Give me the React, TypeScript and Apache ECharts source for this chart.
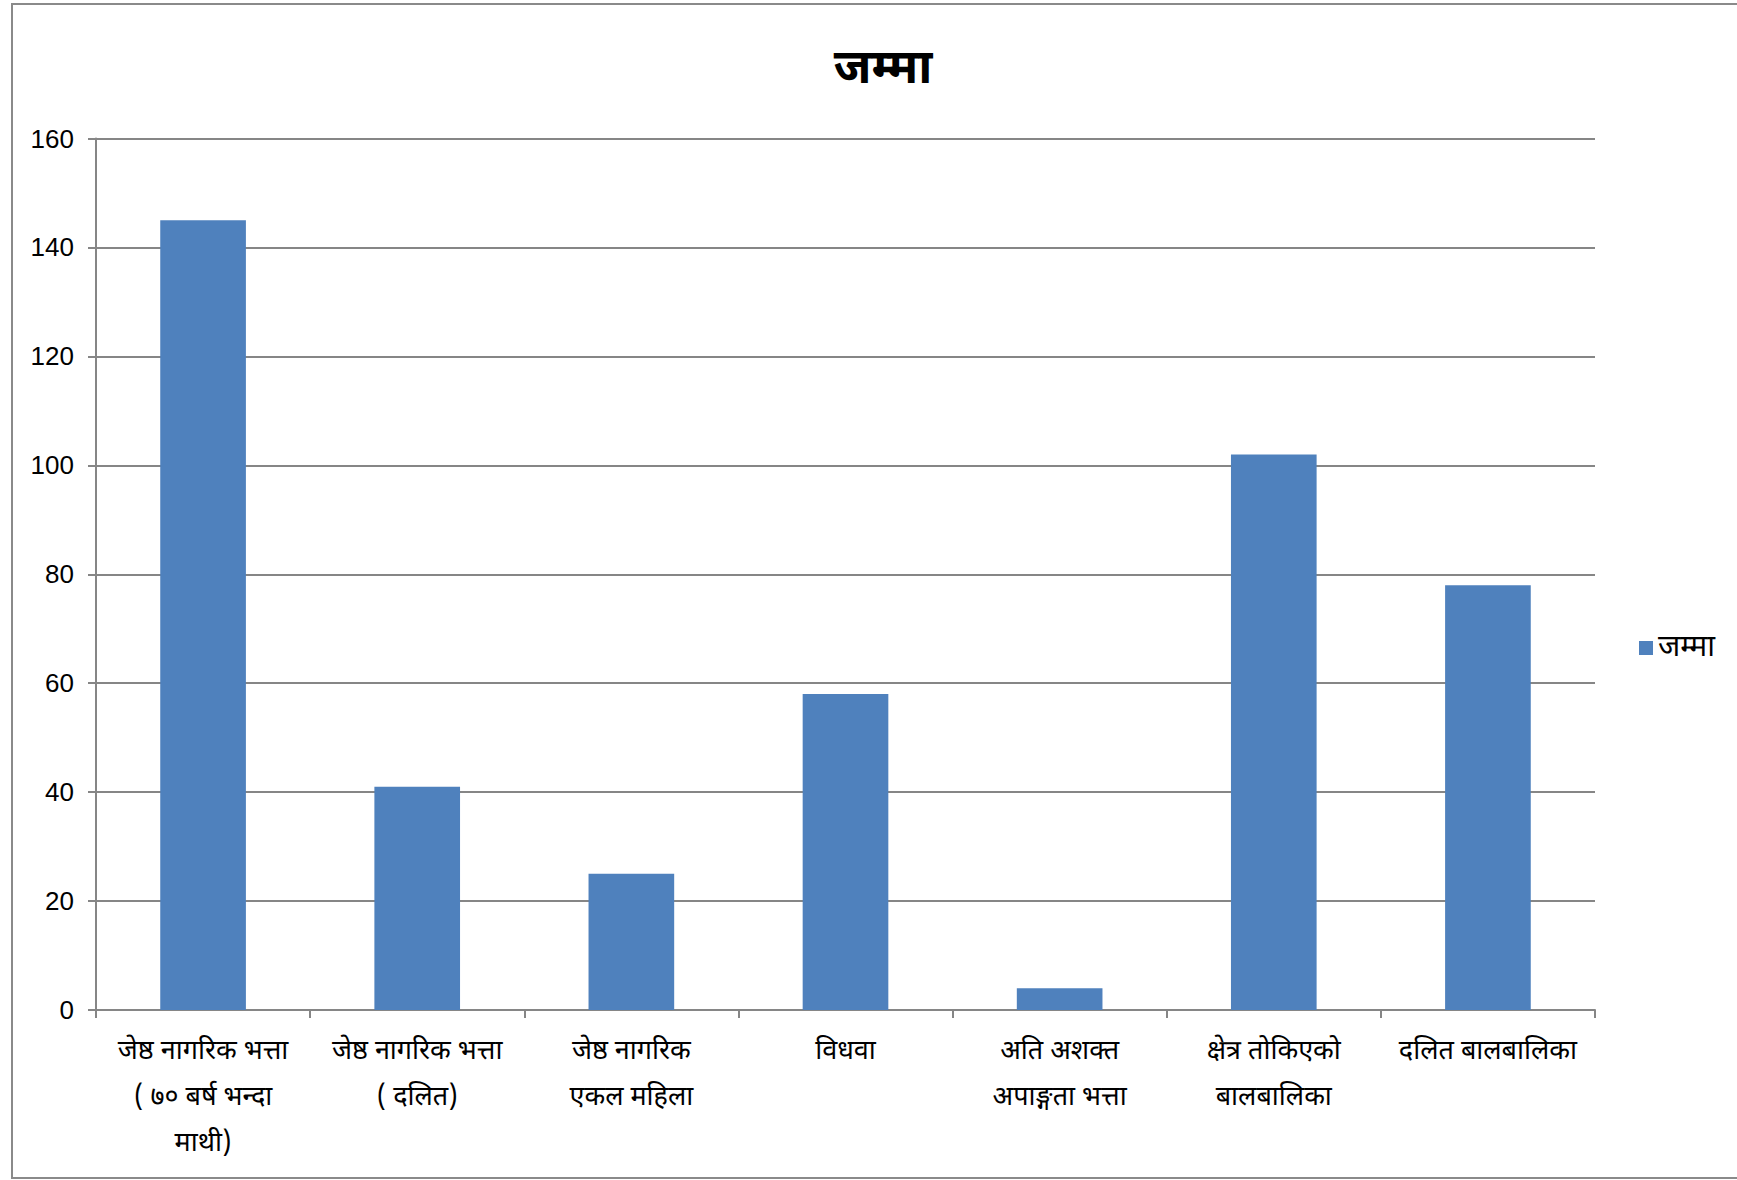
import React, { useEffect, useRef } from "react";
import * as echarts from "echarts";

const categories = [
  "जेष्ठ नागरिक भत्ता\n( ७० बर्ष भन्दा\nमाथी)",
  "जेष्ठ नागरिक भत्ता\n( दलित)",
  "जेष्ठ नागरिक\nएकल महिला",
  "विधवा",
  "अति अशक्त\nअपाङ्गता भत्ता",
  "क्षेत्र तोकिएको\nबालबालिका",
  "दलित बालबालिका",
];
const values = [145, 41, 25, 58, 4, 102, 78];
const seriesName = "जम्मा";
const titleText = "जम्मा";
const yMin = 0;
const yMax = 160;
const yStep = 20;

const deva = "'Noto Sans Devanagari', 'Lohit Devanagari', Mangal, 'Noto Sans', sans-serif";

export default function App() {
  const ref = useRef<HTMLDivElement>(null);
  useEffect(() => {
    document.body.style.margin = "0";
    const chart = echarts.init(ref.current!, null, { renderer: "svg" });
    chart.setOption({
      animation: false,
      backgroundColor: "#ffffff",
      title: {
        text: titleText,
        left: 878,
        textAlign: "center",
        top: 42,
        textStyle: { fontSize: 48, fontWeight: "bold", color: "#000", fontFamily: deva },
      },
      legend: {
        data: [seriesName],
        left: 1634,
        top: 628,
        itemWidth: 14,
        itemHeight: 14,
        itemGap: 6,
        icon: "rect",
        align: "left",
        textStyle: { fontSize: 30, color: "#000", fontFamily: deva, padding: [16, 0, 0, 0] },
      },
      grid: { left: 96, top: 138.5, width: 1499, height: 871.5, containLabel: false },
      xAxis: {
        type: "category",
        data: categories,
        axisLine: { show: true, lineStyle: { color: "#868686", width: 2 } },
        axisTick: { show: true, length: 8, alignWithLabel: false, lineStyle: { color: "#868686", width: 2 } },
        axisLabel: {
          interval: 0,
          margin: 19,
          fontSize: 27,
          lineHeight: 46,
          color: "#000",
          fontFamily: deva,
        },
        splitLine: { show: false },
      },
      yAxis: {
        type: "value",
        min: yMin,
        max: yMax,
        interval: yStep,
        axisLine: { show: true, lineStyle: { color: "#868686", width: 2 } },
        axisTick: { show: true, length: 8, lineStyle: { color: "#868686", width: 2 } },
        axisLabel: {
          margin: 22,
          fontSize: 26,
          color: "#000",
          fontFamily: "'Liberation Sans', Arial, sans-serif",
        },
        splitLine: { show: true, lineStyle: { color: "#868686", width: 2 } },
      },
      series: [
        {
          name: seriesName,
          type: "bar",
          data: values,
          barWidth: "40%",
          itemStyle: { color: "#4F81BD" },
        },
      ],
      graphic: [
        {
          type: "rect",
          shape: { x: 12, y: 4, width: 1760, height: 1174 },
          style: { fill: "none", stroke: "#8a8a8a", lineWidth: 2 },
          silent: true,
        },
      ],
    });
    return () => chart.dispose();
  }, []);
  return <div ref={ref} style={{ width: 1737, height: 1180 }} />;
}
